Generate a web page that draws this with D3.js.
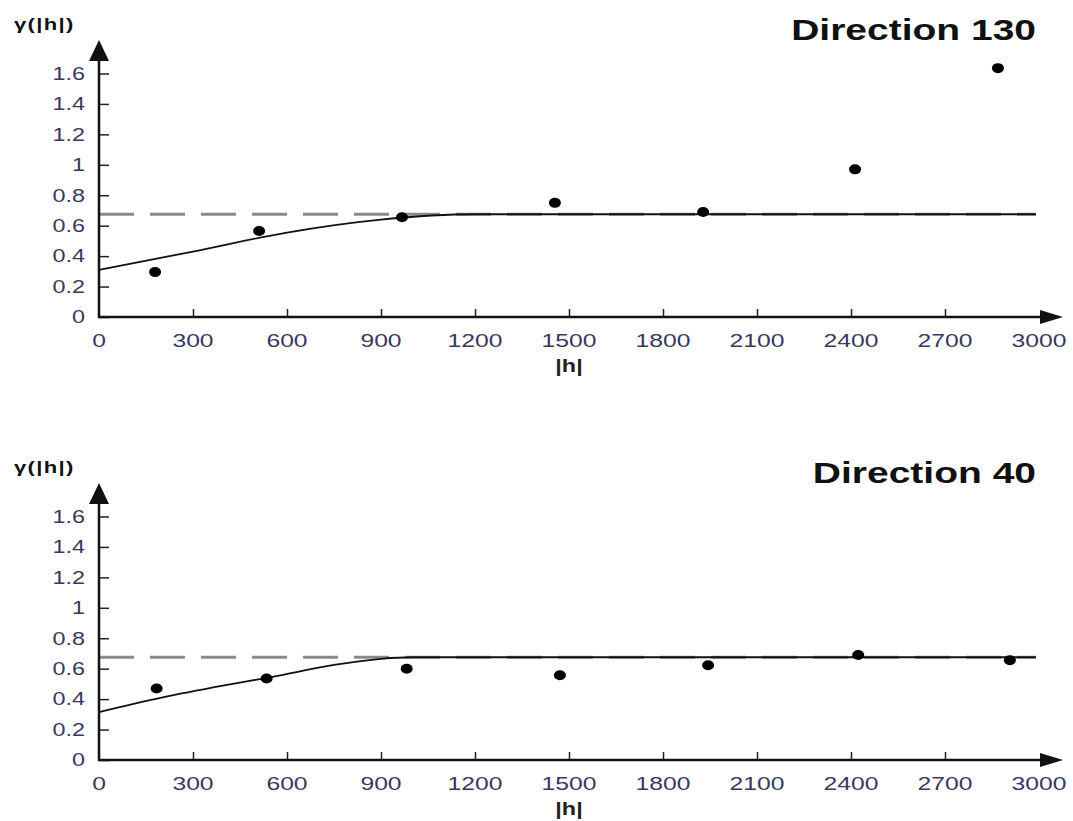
<!DOCTYPE html>
<html>
<head>
<meta charset="utf-8">
<script src="https://cdn.jsdelivr.net/npm/d3@7"></script>
<style>
  body { margin: 0; background: #fff; }
  text { font-family: "Liberation Sans", Arial, sans-serif; }
</style>
</head>
<body>
<div id="chart"></div>
<script>
// experimental variogram points (lag |h|, gamma)
const lags130 = [179, 511, 967, 1455, 1928, 2413, 2869];
const gamma130 = [0.295, 0.565, 0.655, 0.75, 0.69, 0.97, 1.635];
const lags40 = [184, 535, 982, 1471, 1944, 2423, 2907];
const gamma40 = [0.47, 0.536, 0.6, 0.557, 0.623, 0.69, 0.656];

// fitted model curves
const model130H = [0, 300, 600, 900, 1200, 2990];
const model130G = [0.31, 0.43, 0.555, 0.64, 0.675, 0.675];
const model40H = [0, 200, 400, 550, 750, 900, 1000, 2990];
const model40G = [0.315, 0.41, 0.49, 0.545, 0.625, 0.665, 0.675, 0.675];

const sill = 0.675;
const xTicks = [0, 300, 600, 900, 1200, 1500, 1800, 2100, 2400, 2700, 3000];
const yTicks = [0, 0.2, 0.4, 0.6, 0.8, 1, 1.2, 1.4, 1.6];

const width = 1073;
const height = 821;
const stretch = 1.3; // the source image is stretched sideways

const svg = d3.select("#chart").append("svg")
  .attr("width", width)
  .attr("height", height);

function drawPanel(opts) {
  const g = svg.append("g").attr("transform", `translate(0, ${opts.top})`);
  const y0 = 277; // baseline inside the panel

  const x = d3.scaleLinear().domain([0, 3000]).range([99, 1039]);
  const y = d3.scaleLinear().domain([0, 1.82]).range([y0, 0]);

  // sill (dashed)
  g.append("line")
    .attr("x1", x(0)).attr("x2", x(2990))
    .attr("y1", y(sill)).attr("y2", y(sill))
    .attr("stroke", "#8a8a8a")
    .attr("stroke-width", 3)
    .attr("stroke-dasharray", "35,16");

  // model curve
  const line = d3.line()
    .x((d) => x(d[0]))
    .y((d) => y(d[1]))
    .curve(d3.curveMonotoneX);

  g.append("path")
    .datum(opts.modelH.map((h, i) => [h, opts.modelG[i]]))
    .attr("d", line)
    .attr("fill", "none")
    .attr("stroke", "#111")
    .attr("stroke-width", 1.8);

  // points
  g.selectAll(".pt")
    .data(opts.lags.map((h, i) => [h, opts.gamma[i]]))
    .enter()
    .append("ellipse")
    .attr("cx", (d) => x(d[0]))
    .attr("cy", (d) => y(d[1]))
    .attr("rx", 6)
    .attr("ry", 5)
    .attr("fill", "#000");

  // y axis
  const yAxis = g.append("g")
    .attr("transform", `translate(${x(0)}, 0)`)
    .call(d3.axisRight(y).tickValues(yTicks).tickSize(10).tickFormat((d) => String(+d.toFixed(1))));
  yAxis.select(".domain").remove();
  yAxis.selectAll("line").attr("stroke", "#222").attr("stroke-width", 1.5);
  yAxis.selectAll("text")
    .attr("x", 0)
    .attr("text-anchor", "end")
    .attr("transform", `translate(-14, 0) scale(${stretch}, 1)`)
    .style("font-size", "18px")
    .attr("fill", "#38385f");

  // x axis
  const xAxis = g.append("g")
    .attr("transform", `translate(0, ${y0})`)
    .call(d3.axisTop(x).tickValues(xTicks.slice(1, -1)).tickSize(8).tickFormat(""));
  xAxis.select(".domain").remove();
  xAxis.selectAll("line").attr("stroke", "#222").attr("stroke-width", 1.5);

  g.selectAll(".xl")
    .data(xTicks)
    .enter()
    .append("text")
    .attr("transform", (d) => `translate(${x(d)}, ${y0 + 30}) scale(${stretch}, 1)`)
    .attr("text-anchor", "middle")
    .style("font-size", "19px")
    .attr("fill", "#38385f")
    .text((d) => d);

  // axis lines with arrows
  g.append("line")
    .attr("x1", x(0)).attr("x2", x(0))
    .attr("y1", y0 + 1).attr("y2", 18)
    .attr("stroke", "#111").attr("stroke-width", 2.5);
  g.append("path")
    .attr("d", `M${x(0) - 10},21 L${x(0)},0 L${x(0) + 10},21 Z`)
    .attr("fill", "#111");

  g.append("line")
    .attr("x1", x(0) - 1).attr("x2", 1044)
    .attr("y1", y0).attr("y2", y0)
    .attr("stroke", "#111").attr("stroke-width", 2.5);
  g.append("path")
    .attr("d", `M1040,${y0 - 7} L1063,${y0} L1040,${y0 + 7} Z`)
    .attr("fill", "#111");

  // labels
  g.append("text")
    .attr("transform", `translate(14, -10) scale(${stretch}, 1)`)
    .style("font-size", "17px")
    .style("font-weight", "bold")
    .style("letter-spacing", "1px")
    .attr("fill", "#111")
    .text("γ(|h|)");

  g.append("text")
    .attr("transform", `translate(1036, 0) scale(${stretch}, 1)`)
    .attr("text-anchor", "end")
    .style("font-size", "30px")
    .style("font-weight", "bold")
    .attr("fill", "#111")
    .text(opts.title);

  g.append("text")
    .attr("transform", `translate(${x(1500)}, ${y0 + 55}) scale(${stretch}, 1)`)
    .attr("text-anchor", "middle")
    .style("font-size", "18px")
    .style("font-weight", "bold")
    .attr("fill", "#222")
    .text("|h|");
}

drawPanel({
  top: 40, title: "Direction 130",
  lags: lags130, gamma: gamma130, modelH: model130H, modelG: model130G
});
drawPanel({
  top: 483, title: "Direction 40",
  lags: lags40, gamma: gamma40, modelH: model40H, modelG: model40G
});
</script>
</body>
</html>
